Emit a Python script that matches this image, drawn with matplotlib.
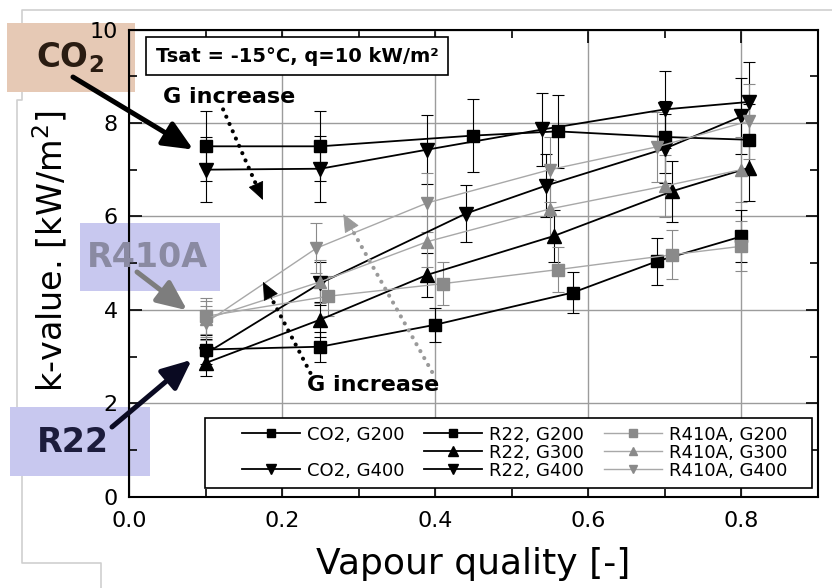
import matplotlib
matplotlib.use("Agg")
import matplotlib.pyplot as plt
from matplotlib.lines import Line2D
from matplotlib.patches import Rectangle
import numpy as np

plt.rcParams["font.family"] = ["DejaVu Sans"]
plt.rcParams["mathtext.fontset"] = "dejavusans"

# Flow-boiling heat transfer coefficient vs. vapour quality
co2_g200_x = [0.10, 0.25, 0.45, 0.56, 0.70, 0.81]
co2_g200_k = [7.50, 7.50, 7.73, 7.82, 7.70, 7.64]
co2_g400_x = [0.10, 0.25, 0.39, 0.54, 0.70, 0.81]
co2_g400_k = [7.00, 7.02, 7.43, 7.86, 8.29, 8.45]

r22_g200_x = [0.10, 0.25, 0.40, 0.58, 0.69, 0.80]
r22_g200_k = [3.15, 3.21, 3.68, 4.37, 5.04, 5.57]
r22_g300_x = [0.10, 0.25, 0.39, 0.555, 0.71, 0.81]
r22_g300_k = [2.86, 3.79, 4.75, 5.58, 6.54, 7.04]
r22_g400_x = [0.10, 0.25, 0.44, 0.545, 0.70, 0.80]
r22_g400_k = [3.06, 4.57, 6.06, 6.66, 7.45, 8.14]

r410a_g200_x = [0.10, 0.26, 0.41, 0.56, 0.71, 0.80]
r410a_g200_k = [3.86, 4.29, 4.56, 4.86, 5.18, 5.36]
r410a_g300_x = [0.10, 0.25, 0.39, 0.55, 0.70, 0.80]
r410a_g300_k = [3.80, 4.60, 5.46, 6.16, 6.65, 7.00]
r410a_g400_x = [0.10, 0.245, 0.39, 0.55, 0.69, 0.81]
r410a_g400_k = [3.72, 5.32, 6.29, 7.00, 7.49, 8.04]

# relative measurement uncertainty of k
REL_UNCERTAINTY = 0.10

x_ticks = [0.0, 0.2, 0.4, 0.6, 0.8]
y_ticks = [0, 2, 4, 6, 8, 10]

BLACK = "#000000"
GREY_MARK = "#8a8a8a"
GREY_LINE = "#a8a8a8"

fig = plt.figure(figsize=(8.32, 5.88), dpi=100)
fig.patch.set_facecolor("white")
ax = fig.add_axes([0.155, 0.1553, 0.828, 0.7945])
ax.patch.set_visible(False)

series = [
    ("CO2, G200", co2_g200_x, co2_g200_k, "s", BLACK, BLACK, 1.3, 9),
    ("CO2, G400", co2_g400_x, co2_g400_k, "v", BLACK, BLACK, 1.3, 10),
    ("R22, G200", r22_g200_x, r22_g200_k, "s", BLACK, BLACK, 1.3, 9),
    ("R22, G300", r22_g300_x, r22_g300_k, "^", BLACK, BLACK, 1.3, 10),
    ("R22, G400", r22_g400_x, r22_g400_k, "v", BLACK, BLACK, 1.3, 10),
    ("R410A, G200", r410a_g200_x, r410a_g200_k, "s", GREY_MARK, GREY_LINE, 1.0, 8),
    ("R410A, G300", r410a_g300_x, r410a_g300_k, "^", GREY_MARK, GREY_LINE, 1.0, 9),
    ("R410A, G400", r410a_g400_x, r410a_g400_k, "v", GREY_MARK, GREY_LINE, 1.0, 9),
]

handles = {}
for label, xs, ks, mk, mcol, lcol, lw, ms in series:
    xs = np.asarray(xs)
    ks = np.asarray(ks)
    ax.errorbar(xs, ks, yerr=REL_UNCERTAINTY * ks, fmt="none", ecolor=mcol,
                elinewidth=0.8, capsize=4, capthick=0.8, zorder=2)
    line, = ax.plot(xs, ks, color=lcol, lw=lw, marker=mk, ms=ms,
                    markerfacecolor=mcol, markeredgecolor=mcol, zorder=3)
    handles[label] = line

ax.set_xlim(0, 0.9)
ax.set_ylim(0, 10)
ax.set_xticks(x_ticks)
ax.set_xticks([0.1, 0.3, 0.5, 0.7], minor=True)
ax.set_yticks(y_ticks)
ax.set_yticks([1, 3, 5, 7, 9], minor=True)
ax.grid(True, which="major", color="#9c9c9c", lw=1.0)
ax.set_axisbelow(True)
ax.tick_params(which="both", direction="in", top=True, right=True,
               width=1.2, labelsize=16)
ax.tick_params(which="major", length=9)
ax.tick_params(which="minor", length=6)
ax.tick_params(axis="x", pad=10)
ax.tick_params(axis="y", pad=8)
for sp in ax.spines.values():
    sp.set_linewidth(1.5)

ax.set_xlabel("Vapour quality [-]", fontsize=26, labelpad=12)
ax.set_ylabel("k-value. [kW/m$^2$]", fontsize=24)
ax.yaxis.set_label_coords(-0.086, 0.525)

# legend: frame drawn separately, entries centred inside it
ax.add_patch(Rectangle((0.110, 0.019), 0.881, 0.150, transform=ax.transAxes,
                       facecolor="white", edgecolor="black", lw=1.2, zorder=4.5))
blank = Line2D([], [], linestyle="none")
leg_handles = [handles["CO2, G200"], blank, handles["CO2, G400"],
               handles["R22, G200"], handles["R22, G300"], handles["R22, G400"],
               handles["R410A, G200"], handles["R410A, G300"], handles["R410A, G400"]]
leg_labels = ["CO2, G200", "", "CO2, G400",
              "R22, G200", "R22, G300", "R22, G400",
              "R410A, G200", "R410A, G300", "R410A, G400"]
leg = ax.legend(leg_handles, leg_labels, ncol=3, loc="center",
                bbox_to_anchor=(0.560, 0.094), fontsize=13, frameon=False,
                handlelength=3.2, handletextpad=0.4, columnspacing=1.1,
                labelspacing=0.0, borderpad=0.0, markerscale=0.65,
                borderaxespad=0)
leg.set_zorder(5)

# condition box
ax.text(0.220, 9.43, "Tsat = -15°C, q=10 kW/m²", fontsize=14, fontweight="bold",
        ha="center", va="center",
        bbox=dict(boxstyle="square,pad=0.5", facecolor="white",
                  edgecolor="black", lw=1.2), zorder=5)

# mass flux trend arrows (dotted shaft, solid head)
ax.text(0.044, 8.56, "G increase", fontsize=16, fontweight="bold",
        ha="left", va="center", zorder=5)
ax.text(0.233, 2.39, "G increase", fontsize=16, fontweight="bold",
        ha="left", va="center", zorder=5)

HEAD_PX = 16.0
trend_arrows = [
    ((0.123, 8.29), (0.175, 6.35), "black"),
    ((0.237, 2.65), (0.175, 4.60), "black"),
    ((0.396, 2.67), (0.280, 6.05), "#9a9a9a"),
]
for start, tip, col in trend_arrows:
    p0 = ax.transData.transform(start)
    p1 = ax.transData.transform(tip)
    u = (p1 - p0) / np.hypot(*(p1 - p0))
    shaft_end = ax.transData.inverted().transform(p1 - u * (HEAD_PX - 2))
    ax.plot([start[0], shaft_end[0]], [start[1], shaft_end[1]], color=col,
            lw=3.0, linestyle=(0, (0.01, 1.9)), dash_capstyle="round", zorder=4)
    off = -u * (HEAD_PX + 4) * 72.0 / fig.dpi
    ax.annotate("", xy=tip, xytext=(off[0], off[1]), textcoords="offset points",
                arrowprops=dict(arrowstyle="-|>,head_length=0.58,head_width=0.26",
                                color=col, lw=0.6, shrinkA=0, shrinkB=0,
                                mutation_scale=20), zorder=4)

# page frame lines
frame_x = [1.0, 0.0264, 0.0264, 0.0204, 0.0204, 0.0264, 0.0264, 0.121, 0.121]
frame_y = [0.983, 0.983, 0.830, 0.830, 0.294, 0.294, 0.0425, 0.0425, 0.0]
fig.add_artist(Line2D(frame_x, frame_y, transform=fig.transFigure,
                      color="#cfcfcf", lw=1.2, zorder=-2))

# refrigerant labels
boxes = [
    ((0.0084, 0.8435), 0.1538, 0.1173, "#e6c9b5"),
    ((0.0962, 0.5051), 0.1683, 0.1156, "#c8c8ef"),
    ((0.0120, 0.1905), 0.1683, 0.1173, "#c8c8ef"),
]
for (x0, y0), w, h, col in boxes:
    fig.add_artist(Rectangle((x0, y0), w, h, transform=fig.transFigure,
                             facecolor=col, edgecolor="none", zorder=-1))

fig.text(0.043, 0.886, r"$\mathbf{CO_2}$", fontsize=23.5, color="#2a1c12",
         ha="left", va="baseline", zorder=6)
fig.text(0.1046, 0.546, "R410A", fontsize=24, fontweight="bold",
         color="#8a8aa2", ha="left", va="baseline", zorder=6)
fig.text(0.0445, 0.2313, "R22", fontsize=24, fontweight="bold",
         color="#1c1c3c", ha="left", va="baseline", zorder=6)

big = dict(arrowstyle="-|>,head_length=0.9,head_width=0.4", lw=3.6,
           shrinkA=0, shrinkB=0, mutation_scale=20)
arrow_specs = [
    ((0.084, 7.43), (0.0877, 0.869), "black"),
    ((0.076, 3.99), (0.1647, 0.5374), "#7d7d7d"),
    ((0.082, 2.93), (0.1346, 0.2738), "#0a0a22"),
]
for tip, start, col in arrow_specs:
    ann = ax.annotate("", xy=tip, xycoords="data", xytext=start,
                      textcoords="figure fraction",
                      arrowprops=dict(color=col, **big), annotation_clip=False)
    ann.set_zorder(7)

fig.savefig("out.png", dpi=100)
